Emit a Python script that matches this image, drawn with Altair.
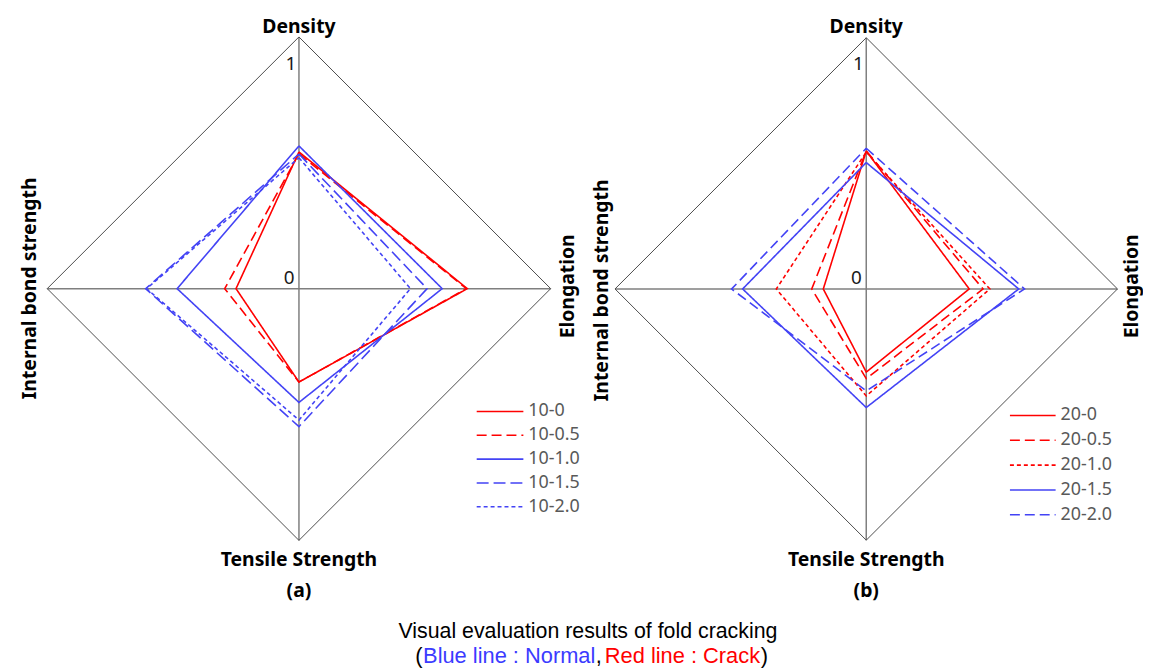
import altair as alt
import pandas as pd

# ---------------- data ----------------
axis_names = ["Density", "Elongation", "Tensile Strength", "Internal bond strength"]

series_a = ["10-0", "10-0.5", "10-1.0", "10-1.5", "10-2.0"]
density_a = [0.543, 0.536, 0.567, 0.535, 0.520]
elong_a = [0.669, 0.665, 0.569, 0.509, 0.443]
tensile_a = [0.371, 0.371, 0.452, 0.548, 0.522]
ibs_a = [0.250, 0.295, 0.484, 0.609, 0.605]

series_b = ["20-0", "20-0.5", "20-1.0", "20-1.5", "20-2.0"]
density_b = [0.549, 0.549, 0.545, 0.503, 0.560]
elong_b = [0.410, 0.465, 0.492, 0.607, 0.630]
tensile_b = [0.331, 0.357, 0.426, 0.472, 0.406]
ibs_b = [0.171, 0.217, 0.358, 0.492, 0.536]

tick_labels = ["0", "1"]
panel_tags = ["(a)", "(b)"]
caption = "Visual evaluation results of fold cracking"
caption_parts = ["(", "Blue line : Normal", ",", "Red line : Crack", ")"]

# ---------------- styles ----------------
RED = "#ff0000"
BLUE = "#4343f5"
colors_a = [RED, RED, BLUE, BLUE, BLUE]
dashes_a = [[1, 0], [10, 5], [1, 0], [12, 5], [4, 3]]
colors_b = [RED, RED, RED, BLUE, BLUE]
dashes_b = [[1, 0], [10, 5], [4, 3], [1, 0], [10, 5]]

# panel geometry (page pixels)
panels = [
    dict(cx=301.0, cy=288.3, R=253.5, lx0=480, lx1=527, ly0=412, dy=24.0),
    dict(cx=872.3, cy=288.6, R=253.0, lx0=1017, lx1=1063, ly0=416, dy=25.0),
]
dirs = [(0, -1), (1, 0), (0, 1), (-1, 0)]

W, H = 1143, 661
xs = alt.Scale(domain=[8, 8 + W], nice=False, zero=False)
ys = alt.Scale(domain=[8, 8 + H], nice=False, zero=False, reverse=True)

# ---------------- build tables ----------------
line_rows, leg_rows, frame_rows, cross_rows = [], [], [], []
all_series, all_colors, all_dashes = [], [], []
datasets = [
    (series_a, [density_a, elong_a, tensile_a, ibs_a], colors_a, dashes_a),
    (series_b, [density_b, elong_b, tensile_b, ibs_b], colors_b, dashes_b),
]
for pid, p, (ser, vals, cols, dsh) in zip(["a", "b"], panels, datasets):
    for i, s in enumerate(ser):
        all_series.append(s)
        all_colors.append(cols[i])
        all_dashes.append(dsh[i])
        for k in range(5):
            j = k % 4
            v = vals[j][i]
            dx, dy = dirs[j]
            line_rows.append(dict(series=s, idx=k,
                                  x=p["cx"] + v * p["R"] * dx,
                                  y=p["cy"] + v * p["R"] * dy))
        leg_rows.append(dict(series=s, x=p["lx0"], x2=p["lx1"],
                             tx=p["lx1"] + 5, y=p["ly0"] + i * p["dy"]))
    for k in range(5):
        dx, dy = dirs[k % 4]
        frame_rows.append(dict(panel=pid, idx=k, x=p["cx"] + p["R"] * dx,
                               y=p["cy"] + p["R"] * dy))
    cross_rows.append(dict(panel=pid, x=p["cx"] - p["R"], x2=p["cx"] + p["R"],
                           y=p["cy"], y2=p["cy"]))
    cross_rows.append(dict(panel=pid, x=p["cx"], x2=p["cx"],
                           y=p["cy"] - p["R"], y2=p["cy"] + p["R"]))

df_lines = pd.DataFrame(line_rows)
df_leg = pd.DataFrame(leg_rows)
df_frame = pd.DataFrame(frame_rows)
df_cross = pd.DataFrame(cross_rows)

color_enc = alt.Color("series:N", scale=alt.Scale(domain=all_series, range=all_colors), legend=None)
dash_enc = alt.StrokeDash("series:N", scale=alt.Scale(domain=all_series, range=all_dashes), legend=None)


def X(f="x"):
    return alt.X(f"{f}:Q", scale=xs, axis=None)


def Y(f="y"):
    return alt.Y(f"{f}:Q", scale=ys, axis=None)


cross = alt.Chart(df_cross).mark_rule(color="#7f7f7f", strokeWidth=1.5).encode(
    x=X(), x2="x2:Q", y=Y(), y2="y2:Q")
frame = alt.Chart(df_frame).mark_line(color="#4d4d4d", strokeWidth=1).encode(
    x=X(), y=Y(), detail="panel:N", order="idx:Q")
lines = alt.Chart(df_lines).mark_line(strokeWidth=1.6).encode(
    x=X(), y=Y(), color=color_enc, strokeDash=dash_enc, detail="series:N", order="idx:Q")
leg_lines = alt.Chart(df_leg).mark_rule(strokeWidth=1.6).encode(
    x=X(), x2="x2:Q", y=Y(), color=color_enc, strokeDash=dash_enc)
leg_text = alt.Chart(df_leg).mark_text(align="left", baseline="middle", fontSize=18,
                                       font="Noto Sans", color="#595959").encode(
    x=X("tx"), y=Y(), text="series:N")

# axis titles
lab_rows = []
for p, tag in zip(panels, panel_tags):
    lab_rows.append(dict(t=axis_names[0], x=p["cx"], y=25))
    lab_rows.append(dict(t=axis_names[2], x=p["cx"], y=562))
    lab_rows.append(dict(t=tag, x=p["cx"], y=593))
df_lab = pd.DataFrame(lab_rows)
rot_rows = [
    dict(t=axis_names[3], x=30, y=288),
    dict(t=axis_names[1], x=572, y=286),
    dict(t=axis_names[3], x=606, y=290),
    dict(t=axis_names[1], x=1140, y=286),
]
df_rot = pd.DataFrame(rot_rows)
bold_font = "Noto Sans"
labels = alt.Chart(df_lab).mark_text(fontSize=19.5, fontWeight="bold", font=bold_font,
                                     baseline="middle", color="black").encode(
    x=X(), y=Y(), text="t:N")
rot_labels = alt.Chart(df_rot).mark_text(fontSize=19.5, fontWeight="bold", font=bold_font,
                                         baseline="middle", angle=270, color="black").encode(
    x=X(), y=Y(), text="t:N")

tick_rows = []
for p in panels:
    tick_rows.append(dict(t=tick_labels[1], x=p["cx"] - 8, y=p["cy"] - p["R"] + 27))
    tick_rows.append(dict(t=tick_labels[0], x=p["cx"] - 10, y=p["cy"] - 11))
df_tick = pd.DataFrame(tick_rows)
ticks = alt.Chart(df_tick).mark_text(fontSize=19, font="Noto Sans", baseline="middle",
                                     color="#1a1a1a").encode(x=X(), y=Y(), text="t:N")

cap_font = "Liberation Sans"
df_cap1 = pd.DataFrame([dict(t=caption, x=592, y=634)])
cap1 = alt.Chart(df_cap1).mark_text(fontSize=21.5, font=cap_font, baseline="middle",
                                    color="black").encode(x=X(), y=Y(), text="t:N")
cap_x = [418, 426, 600, 609, 766]
cap_c = ["black", "#3b3bff", "black", "#ff0000", "black"]
df_cap2 = pd.DataFrame([dict(t=t, x=x, y=658, c=c) for t, x, c in zip(caption_parts, cap_x, cap_c)])
cap2 = alt.Chart(df_cap2).mark_text(fontSize=22, font=cap_font, baseline="middle",
                                    align="left").encode(
    x=X(), y=Y(), text="t:N", color=alt.Color("c:N", scale=None))

chart = alt.layer(cross, frame, lines, leg_lines, leg_text, labels, rot_labels, ticks,
                  cap1, cap2).properties(
    width=W, height=H, padding=0,
    autosize=alt.AutoSizeParams(type="none"),
).configure_view(stroke=None)

chart.save("out.html", embed_options={"renderer": "svg", "actions": False})
